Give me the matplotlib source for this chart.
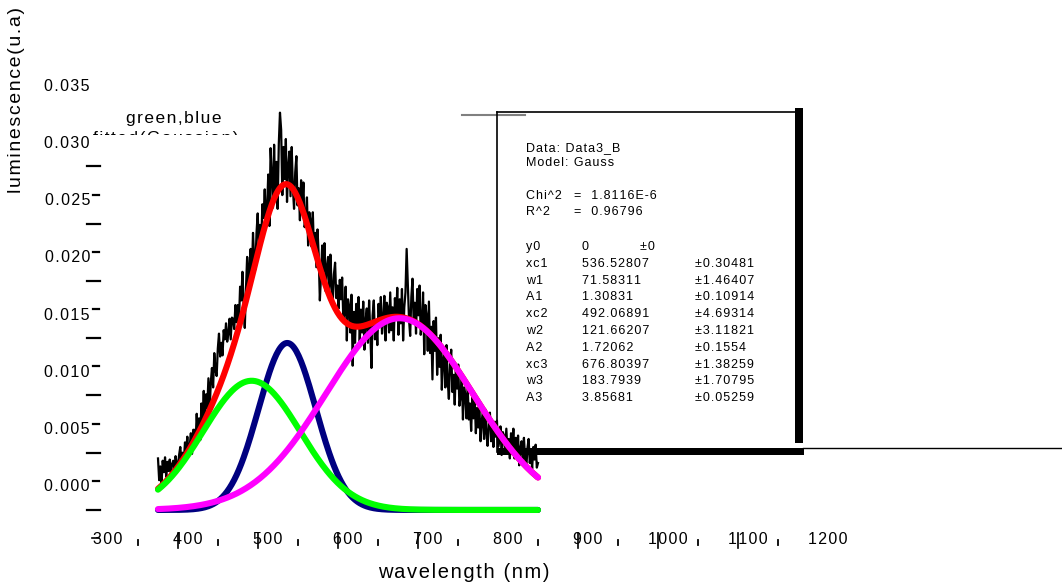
import numpy as np
import matplotlib
matplotlib.use("Agg")
import matplotlib.pyplot as plt
from matplotlib import transforms
from matplotlib.patches import Rectangle

plt.rcParams["font.family"] = ["Liberation Sans", "DejaVu Sans"]

# measured spectrum (Data3_B), evenly sampled from 375 to 850 nm, in 1e-3 u.a.
lum_milli = [
    4.5, 2.6, 3.8, 2.3, 4.3, 3.3, 4.6, 2.9, 4.2, 3.4,
    4.4, 3.1, 4.0, 4.3, 3.6, 4.7, 4.0, 3.7, 4.8, 5.5,
    4.3, 5.0, 4.2, 5.9, 5.2, 6.4, 4.9, 5.5, 6.7, 4.9,
    7.0, 7.0, 5.8, 8.4, 6.4, 8.0, 6.1, 9.3, 7.9, 10.4,
    7.3, 10.1, 8.9, 11.5, 8.7, 11.1, 12.4, 10.7, 13.7, 12.2,
    11.7, 14.1, 15.4, 13.4, 14.6, 13.5, 15.7, 14.9, 16.3, 14.7,
    15.4, 16.7, 14.9, 16.8, 16.7, 15.8, 17.9, 16.4, 17.9, 16.4,
    19.5, 18.3, 20.8, 17.9, 15.9, 19.3, 22.1, 18.9, 21.4, 22.8,
    20.4, 24.2, 21.9, 21.0, 24.2, 25.9, 23.1, 24.9, 23.2, 26.7,
    25.5, 28.0, 25.1, 26.3, 29.3, 24.8, 31.6, 29.3, 26.4, 31.9,
    27.2, 30.4, 26.3, 32.0, 34.7, 33.2, 27.5, 31.7, 28.9, 32.4,
    26.9, 30.0, 31.3, 27.4, 31.7, 28.1, 26.3, 29.5, 30.9, 26.6,
    28.1, 25.3, 28.8, 26.5, 28.6, 24.7, 25.3, 27.3, 23.1, 26.0,
    25.3, 23.0, 26.0, 22.6, 24.2, 21.2, 24.5, 22.3, 18.3, 20.5,
    23.1, 20.9, 23.3, 19.1, 21.2, 22.1, 19.1, 22.3, 19.6, 18.2,
    20.6, 21.6, 18.5, 19.6, 17.6, 20.1, 18.4, 20.3, 16.6, 17.2,
    19.5, 14.8, 18.4, 17.8, 15.5, 18.8, 12.6, 17.3, 14.6, 18.0,
    16.1, 18.6, 14.6, 17.5, 15.5, 18.2, 14.0, 16.5, 17.6, 14.6,
    18.3, 15.5, 12.4, 17.0, 18.3, 14.9, 16.6, 14.4, 18.0, 16.3,
    18.6, 15.4, 16.5, 18.7, 14.8, 18.1, 17.7, 15.5, 19.0, 15.7,
    17.7, 14.8, 18.5, 16.6, 19.4, 15.3, 18.4, 16.3, 19.3, 14.8,
    17.7, 19.0, 22.8, 19.8, 16.7, 15.2, 18.6, 20.2, 16.3, 18.1,
    15.4, 19.3, 17.0, 19.6, 15.3, 16.3, 19.0, 13.6, 17.9, 17.0,
    13.9, 18.2, 13.7, 16.0, 11.4, 16.5, 13.9, 16.8, 11.8, 15.0,
    12.5, 15.3, 10.5, 13.0, 14.0, 10.7, 14.4, 11.3, 9.7, 12.7,
    14.0, 10.3, 11.8, 9.2, 12.7, 10.6, 12.7, 9.1, 9.9, 11.8,
    7.9, 10.7, 10.1, 8.0, 10.9, 7.9, 9.3, 6.9, 9.8, 8.0,
    9.9, 6.7, 8.9, 7.2, 9.2, 6.0, 7.8, 8.5, 6.2, 8.8,
    6.7, 5.6, 7.6, 8.5, 6.0, 7.1, 5.5, 7.7, 6.4, 7.8,
    5.5, 6.0, 7.3, 4.8, 6.8, 6.5, 5.1, 7.1, 5.1, 6.2,
    4.5, 6.7, 5.4, 7.1, 4.5, 6.3, 4.9, 6.5, 3.9, 5.4,
    6.0, 4.1, 6.3, 4.5, 3.6, 5.4, 6.2, 4.1, 5.0, 3.6,
    5.5, 4.4, 5.7, 3.7, 4.1,
]
wavelength = np.linspace(375, 850, len(lum_milli))
luminescence = np.array(lum_milli) * 1e-3

# Gauss fit results
y0 = 0.0
xc = [536.52807, 492.06891, 676.80397]
w = [71.58311, 121.66207, 183.7939]
A = [1.30831, 1.72062, 3.85681]
comp_colors = ["#000080", "#00ff00", "#ff00ff"]

fit_rows = [
    ("y0", "0", "\u00b10"),
    ("xc1", "536.52807", "\u00b10.30481"),
    ("w1", "71.58311", "\u00b11.46407"),
    ("A1", "1.30831", "\u00b10.10914"),
    ("xc2", "492.06891", "\u00b14.69314"),
    ("w2", "121.66207", "\u00b13.11821"),
    ("A2", "1.72062", "\u00b10.1554"),
    ("xc3", "676.80397", "\u00b11.38259"),
    ("w3", "183.7939", "\u00b11.70795"),
    ("A3", "3.85681", "\u00b10.05259"),
]

xtick_labels = [300, 400, 500, 600, 700, 800, 900, 1000, 1100, 1200]
xticks_major = [400, 500, 600, 700, 900, 1000, 1100]
xticks_minor = [350, 450, 550, 650, 750, 850, 950, 1050, 1150]
ytick_labels = [0.000, 0.005, 0.010, 0.015, 0.020, 0.025, 0.030, 0.035]
yticks_long = [0.000, 0.005, 0.010, 0.015, 0.020, 0.025, 0.030]
yticks_short = [0.000, 0.005, 0.010, 0.015, 0.020, 0.025]


def gauss(x, xc, w, A):
    return A / (w * np.sqrt(np.pi / 2)) * np.exp(-2 * ((x - xc) / w) ** 2)


def spaced(s, gap="\u200a"):
    return gap.join(s)


W, H = 1062, 583
fig = plt.figure(figsize=(W / 100, H / 100), dpi=100)
ax = fig.add_axes([0, 0, 1, 1])
ax.set_xlim(177.5, 1505.0)
ax.set_ylim(-0.00638, 0.04454)
ax.axis("off")

# pixel coordinates measured from the top-left corner
pix = transforms.Affine2D().scale(1 / W, -1 / H).translate(0, 1) + fig.transFigure
x_data_y_pix = transforms.blended_transform_factory(ax.transData, pix)
x_pix_y_data = transforms.blended_transform_factory(pix, ax.transData)

# spectrum and fits
ax.plot(wavelength, luminescence, color="black", lw=1.6, zorder=3)
comps = [y0 + gauss(wavelength, c, ww, a) for c, ww, a in zip(xc, w, A)]
total = y0 + sum(gauss(wavelength, c, ww, a) for c, ww, a in zip(xc, w, A))
ax.plot(wavelength, total, color="#ff0000", lw=4.4, solid_capstyle="round", zorder=4)
for i, (comp, col) in enumerate(zip(comps, comp_colors)):
    ax.plot(wavelength, comp, color=col, lw=4.4, solid_capstyle="round", zorder=5 + i)

# x axis: ticks and labels
for t in xticks_major:
    ax.plot([t, t], [533, 548], color="black", lw=1.2, transform=x_data_y_pix, clip_on=False)
for t in xticks_minor:
    ax.plot([t, t], [540, 545], color="black", lw=1.3, transform=x_data_y_pix, clip_on=False)
ax.plot([92, 99], [538, 538], color="black", lw=1.2, transform=pix)
xlab_tr = transforms.offset_copy(x_data_y_pix, fig=fig, x=10, y=0, units="dots")
for t in xtick_labels:
    ax.text(t, 539, spaced(str(t)), transform=xlab_tr, ha="center", va="center", fontsize=11.5)
ax.text(464, 573, spaced("wavelength (nm)"), transform=pix,
        ha="center", va="center", fontsize=14.5)

# y axis: ticks and labels
for v in yticks_long:
    ax.plot([87, 100], [v, v], color="black", lw=1.6, transform=x_pix_y_data)
ytick_short_tr = transforms.offset_copy(x_pix_y_data, fig=fig, x=0, y=29, units="dots")
for v in yticks_short:
    ax.plot([93, 99], [v, v], color="black", lw=1.6, transform=ytick_short_tr)
ylab_tr = transforms.offset_copy(x_pix_y_data, fig=fig, x=0, y=23, units="dots")
for v in ytick_labels:
    ax.text(90, v, spaced(f"{v:.3f}"), transform=ylab_tr, ha="right", va="center", fontsize=11.5)
ax.text(17, 100, spaced("luminescence(u.a)"), transform=pix, rotation=90,
        ha="center", va="center", fontsize=14)

# legend text, lower line partly hidden
ax.text(174, 119, spaced("green,blue"), transform=pix, ha="center", va="center", fontsize=12.5)
ax.text(166, 139, spaced("fitted(Gaussian)"), transform=pix, ha="center", va="center",
        fontsize=12.5, zorder=1)
ax.add_patch(Rectangle((88, 135), 165, 25, transform=pix, facecolor="white",
                       edgecolor="none", zorder=2))

# fit report box
ax.plot([462, 525], [115, 115], color="#808080", lw=1.5, transform=pix, zorder=1)
ax.plot([497, 795], [112, 112], color="black", lw=1.2, transform=pix, zorder=1)
ax.plot([497, 497], [112, 452], color="black", lw=1.2, transform=pix, zorder=1)
ax.plot([803, 1062], [448, 448], color="black", lw=1.0, transform=pix, zorder=1)
ax.add_patch(Rectangle((795, 108), 8, 335, transform=pix, facecolor="black",
                       edgecolor="none", zorder=1))
ax.add_patch(Rectangle((497, 448), 307, 7, transform=pix, facecolor="black",
                       edgecolor="none", zorder=1))

box_fs = 9
ax.text(526, 148, spaced("Data: Data3_B"), transform=pix, va="center", fontsize=box_fs)
ax.text(526, 163, spaced("Model: Gauss"), transform=pix, va="center", fontsize=box_fs)
ax.text(526, 196, spaced("Chi^2"), transform=pix, va="center", fontsize=box_fs)
ax.text(574, 196, spaced("=  1.8116E-6"), transform=pix, va="center", fontsize=box_fs)
ax.text(526, 212, spaced("R^2"), transform=pix, va="center", fontsize=box_fs)
ax.text(574, 212, spaced("=  0.96796"), transform=pix, va="center", fontsize=box_fs)
for i, (name, val, err) in enumerate(fit_rows):
    y = 247 + i * 16.8
    ax.text(526, y, spaced(name), transform=pix, va="center", fontsize=box_fs)
    ax.text(582, y, spaced(val), transform=pix, va="center", fontsize=box_fs)
    ax.text(640 if name == "y0" else 695, y, spaced(err), transform=pix, va="center",
            fontsize=box_fs)

fig.savefig("out.png", dpi=100)
